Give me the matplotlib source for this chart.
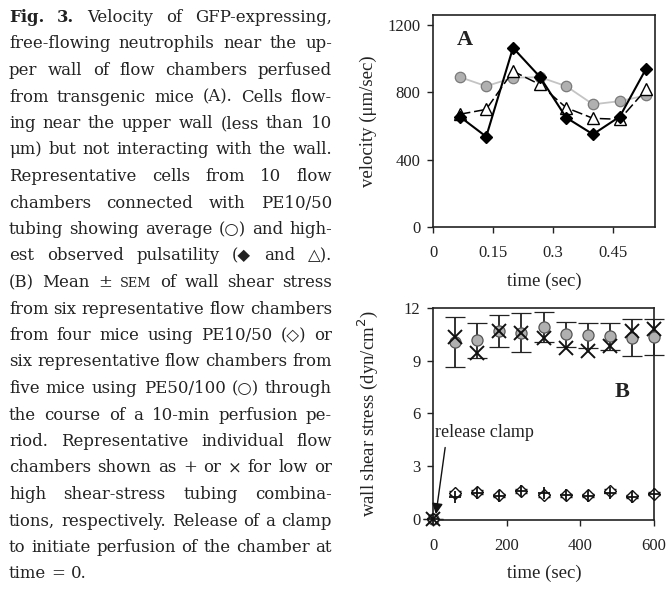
import matplotlib
matplotlib.use('Agg')
import matplotlib.pyplot as plt

W, H = 668, 589

# ---------------- Panel A data ----------------
time_a = [0.067, 0.133, 0.2, 0.267, 0.333, 0.4, 0.467, 0.533]
vel_average = [891, 837, 887, 891, 837, 729, 748, 782]
vel_high_diamond = [656, 537, 1065, 893, 650, 551, 656, 942]
vel_high_triangle = [670, 699, 926, 847, 709, 646, 640, 818]
xticks_a = [0, 0.15, 0.3, 0.45]
xticklabels_a = ['0', '0.15', '0.3', '0.45']
yticks_a = [0, 400, 800, 1200]

# ---------------- Panel B data ----------------
time_b = [0, 60, 120, 180, 240, 300, 360, 420, 480, 540, 600]
shear_high_mean = [0, 10.06, 10.17, 10.69, 10.59, 10.92, 10.50, 10.44, 10.40, 10.31, 10.37]
shear_high_sem = [0, 1.40, 1.00, 0.92, 1.11, 0.87, 0.71, 0.73, 0.77, 1.05, 1.02]
shear_high_indiv = [0, 10.33, 9.45, 10.69, 10.59, 10.31, 9.74, 9.54, 9.83, 10.69, 10.79]
shear_low_mean = [0, 1.45, 1.51, 1.32, 1.57, 1.32, 1.32, 1.32, 1.57, 1.26, 1.42]
shear_low_sem = [0, 0.10, 0.10, 0.10, 0.10, 0.10, 0.10, 0.10, 0.10, 0.10, 0.10]
shear_low_indiv = [0, 1.25, 1.45, 1.28, 1.55, 1.45, 1.32, 1.30, 1.45, 1.22, 1.42]
xticks_b = [0, 200, 400, 600]
yticks_b = [0, 3, 6, 9, 12]

caption_lines = [
    "Fig. 3. Velocity of GFP-expressing,",
    "free-flowing neutrophils near the up-",
    "per wall of flow chambers perfused",
    "from transgenic mice (A). Cells flow-",
    "ing near the upper wall (less than 10",
    "\u03bcm) but not interacting with the wall.",
    "Representative cells from 10 flow",
    "chambers connected with PE10/50",
    "tubing showing average (\u25cb) and high-",
    "est observed pulsatility (\u25c6 and \u25b3).",
    "(B) Mean \u00b1 SEM of wall shear stress",
    "from six representative flow chambers",
    "from four mice using PE10/50 (\u25c7) or",
    "six representative flow chambers from",
    "five mice using PE50/100 (\u25cb) through",
    "the course of a 10-min perfusion pe-",
    "riod. Representative individual flow",
    "chambers shown as + or \u00d7 for low or",
    "high shear-stress tubing combina-",
    "tions, respectively. Release of a clamp",
    "to initiate perfusion of the chamber at",
    "time = 0.",
]

SERIF = ['Liberation Serif', 'DejaVu Serif', 'DejaVu Sans']
CAP_FONT = ['DejaVu Serif', 'DejaVu Sans']
TXT = '#222222'

fig = plt.figure(figsize=(W / 100, H / 100), dpi=100)
fig.patch.set_facecolor('white')


def fx(px):
    return px / W


def fy(py):
    return 1 - py / H


# ---------------- Caption (justified) ----------------
renderer = fig.canvas.get_renderer()
cap_left, cap_right = 9, 332
base0, line_step = 22, 26.5
size0 = 12.0

line_tokens = []
for i, line in enumerate(caption_lines):
    toks = []
    for j, w in enumerate(line.split(' ')):
        weight = 'bold' if (i == 0 and j < 2) else 'normal'
        scale = 0.78 if w == 'SEM' else 1.0
        t = fig.text(0, 0, w, fontsize=size0 * scale, fontweight=weight,
                     family=CAP_FONT, color=TXT, va='baseline', ha='left')
        toks.append((t, scale))
    line_tokens.append(toks)


def widths(toks):
    return [t.get_window_extent(renderer).width for t, _ in toks]


sp_probe = fig.text(0, 0, 'a a', fontsize=size0, family=CAP_FONT)
nsp_probe = fig.text(0, 0, 'aa', fontsize=size0, family=CAP_FONT)
space0 = sp_probe.get_window_extent(renderer).width - nsp_probe.get_window_extent(renderer).width
maxnat = max(sum(widths(tk)) + space0 * (len(tk) - 1) for tk in line_tokens)
size = size0 * (cap_right - cap_left) / maxnat * 0.995
for tk in line_tokens:
    for t, sc in tk:
        t.set_fontsize(size * sc)
sp_probe.set_fontsize(size)
nsp_probe.set_fontsize(size)
space = sp_probe.get_window_extent(renderer).width - nsp_probe.get_window_extent(renderer).width
sp_probe.remove()
nsp_probe.remove()

for i, tk in enumerate(line_tokens):
    ws = widths(tk)
    yb = base0 + i * line_step
    last = (i == len(line_tokens) - 1)
    if last or len(tk) == 1:
        gap = space
    else:
        gap = (cap_right - cap_left - sum(ws)) / (len(tk) - 1)
    x = cap_left
    for (t, _), w in zip(tk, ws):
        t.set_position((fx(x), fy(yb)))
        x += w + gap

# ---------------- Panel A ----------------
axA = fig.add_axes([fx(433), fy(227), fx(655) - fx(433), fy(15) - fy(227)])
axA.plot(time_a, vel_average, color='#c4c4c4', lw=1.3, marker='o', ms=7.5,
         mfc='#b0b0b0', mec='#7a7a7a', mew=0.9, zorder=2)
axA.plot(time_a, vel_high_triangle, color='black', lw=1.1, ls=(0, (7, 2.5)),
         marker='^', ms=8.5, mfc='white', mec='black', mew=1.0, zorder=3)
axA.plot(time_a, vel_high_diamond, color='black', lw=1.5, marker='D', ms=6,
         mfc='black', mec='black', zorder=4)
axA.set_xlim(0, 0.555)
axA.set_ylim(0, 1260)
axA.set_xticks(xticks_a)
axA.set_xticklabels(xticklabels_a)
axA.set_yticks(yticks_a)
axA.text(0.08, 1114, 'A', fontsize=16, fontweight='bold', family=SERIF,
         ha='center', va='center', color=TXT)

# ---------------- Panel B ----------------
axB = fig.add_axes([fx(433), fy(520), fx(654) - fx(433), fy(308) - fy(520)])
axB.errorbar(time_b, shear_high_mean, yerr=shear_high_sem, fmt='o', ms=8,
             mfc='#b0b0b0', mec='#555555', mew=0.9, ecolor='#222222',
             elinewidth=1.3, capsize=7, capthick=1.3, clip_on=False, zorder=3)
axB.plot(time_b, shear_high_indiv, ls='none', marker='x', ms=9.5, mew=1.4,
         color='#111111', clip_on=False, zorder=4)
axB.errorbar(time_b, shear_low_mean, yerr=shear_low_sem, fmt='D', ms=6.5,
             mfc='white', mec='#111111', mew=1.0, ecolor='#111111',
             elinewidth=1.0, capsize=4, capthick=1.0, clip_on=False, zorder=3)
axB.plot(time_b, shear_low_indiv, ls='none', marker='+', ms=9, mew=1.3,
         color='#111111', clip_on=False, zorder=4)
axB.set_xlim(0, 600)
axB.set_ylim(-0.08, 12)
axB.set_xticks(xticks_b)
axB.set_yticks(yticks_b)
axB.text(513, 7.23, 'B', fontsize=16, fontweight='bold', family=SERIF,
         ha='center', va='center', color=TXT)
axB.annotate('', xy=(8, 0.25), xytext=(33, 4.05),
             arrowprops=dict(arrowstyle='-|>', color='#111111', lw=1.0,
                             mutation_scale=16, shrinkA=0, shrinkB=0),
             annotation_clip=False)
axB.text(6, 4.9, 'release clamp', fontsize=13, family=SERIF, color=TXT,
         ha='left', va='center')

for ax in (axA, axB):
    for s in ax.spines.values():
        s.set_linewidth(1.2)
        s.set_color('#222222')
    ax.tick_params(direction='out', length=4, width=1.0, colors='#222222',
                   labelsize=12, labelcolor=TXT)
    ax.tick_params(axis='x', pad=9)
    ax.tick_params(axis='y', pad=5)
    for lab in ax.get_xticklabels() + ax.get_yticklabels():
        lab.set_family(SERIF)

# axis labels
fig.text(fx(544), fy(281), 'time (sec)', fontsize=13.5, family=SERIF, color=TXT,
         ha='center', va='center')
fig.text(fx(544), fy(573), 'time (sec)', fontsize=13.5, family=SERIF, color=TXT,
         ha='center', va='center')
fig.text(fx(368), fy(121), 'velocity (\u03bcm/sec)', fontsize=13.5, family=SERIF,
         color=TXT, ha='center', va='center', rotation=90)
fig.text(fx(368), fy(414), 'wall shear stress (dyn/cm$^2$)', fontsize=13.5,
         family=SERIF, color=TXT, ha='center', va='center', rotation=90)

fig.savefig('out.png', dpi=100, facecolor='white')
